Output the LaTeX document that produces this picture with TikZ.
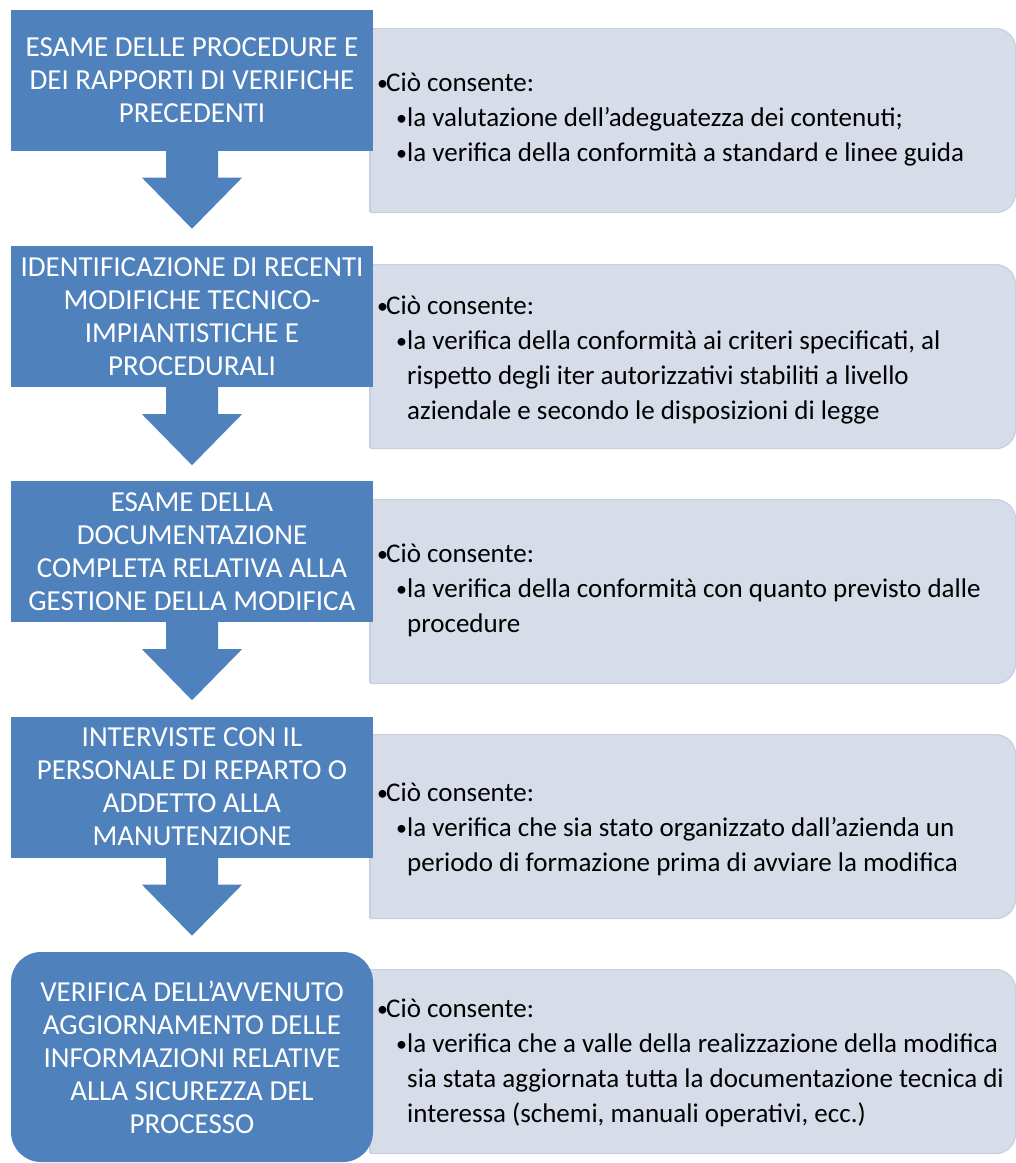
\documentclass[tikz,border=0pt]{standalone}
\usepackage{fontspec}
\setmainfont{Carlito}
\definecolor{stepblue}{HTML}{4F81BD}
\definecolor{notefill}{HTML}{D6DCE8}
\definecolor{noteline}{HTML}{C8CFDE}
% bullet helpers for the note texts
\newcommand{\dotmark}{{\fontsize{22}{22}\selectfont\raisebox{1pt}{•}}}
\newcommand{\notehead}[1]{\makebox[9pt][l]{\dotmark}#1}
\newcommand{\noteitem}[1]{\hspace*{19pt}\makebox[11pt][l]{\dotmark}#1}
\newcommand{\notecont}[1]{\hspace*{30pt}#1}
\begin{document}
\begin{tikzpicture}[x=1pt,y=-1pt,
  stepbox/.style={fill=stepblue, text=white, minimum width=362pt, minimum height=141pt,
    inner sep=0pt, align=center, font=\fontsize{29}{33}\selectfont},
  flow/.style={fill=stepblue},
  notebox/.style={fill=notefill, draw=noteline, line width=1.2pt, rounded corners=20pt,
    minimum width=675pt, minimum height=184pt, anchor=north west, inner sep=0pt},
  notetext/.style={anchor=west, inner sep=0pt, align=left,
    font=\fontsize{27}{35}\selectfont, text=black}]
\useasboundingbox (0,0) rectangle (1016,1163);

% note panels (square left side, rounded right side)
\begin{scope}
  \clip (370,0) rectangle (1016,1163);
  \node[notebox] (n1) at (340,28) {};
  \node[notebox] (n2) at (340,264) {};
  \node[notebox] (n3) at (340,499) {};
  \node[notebox] (n4) at (340,734) {};
  \node[notebox] (n5) at (340,969) {};
\end{scope}
\foreach \t in {28,264,499,734,969}
  \draw[noteline, line width=1.2pt] (370,\t) -- ++(0,184);

% steps
\node[stepbox] (b1) at (192,80) {ESAME DELLE PROCEDURE E\\DEI RAPPORTI DI VERIFICHE\\PRECEDENTI};
\node[stepbox] (b2) at (192,316.5) {IDENTIFICAZIONE DI RECENTI\\MODIFICHE TECNICO-\\IMPIANTISTICHE E\\PROCEDURALI};
\node[stepbox] (b3) at (192,551.5) {ESAME DELLA\\DOCUMENTAZIONE\\COMPLETA RELATIVA ALLA\\GESTIONE DELLA MODIFICA};
\node[stepbox] (b4) at (192,787) {INTERVISTE CON IL\\PERSONALE DI REPARTO O\\ADDETTO ALLA\\MANUTENZIONE};
\node[stepbox, rounded corners=30pt, minimum height=210pt] (b5) at (192,1057)
  {VERIFICA DELL’AVVENUTO\\AGGIORNAMENTO DELLE\\INFORMAZIONI RELATIVE\\ALLA SICUREZZA DEL\\PROCESSO};

% block arrows hanging below each step
\foreach \b in {b1,b2,b3,b4}
  \fill[flow] (\b.south) ++(-26,-1) -- ++(0,28) -- ++(-24,0) -- ++(50,51)
    -- ++(50,-51) -- ++(-24,0) -- ++(0,-28) -- cycle;

% note texts
\node[notetext] (t1) at (377,120) {\notehead{Ciò consente:}\\
  \noteitem{la valutazione dell’adeguatezza dei contenuti;}\\
  \noteitem{la verifica della conformità a standard e linee guida}};
\node[notetext] (t2) at (377,360) {\notehead{Ciò consente:}\\
  \noteitem{la verifica della conformità ai criteri specificati, al}\\
  \notecont{rispetto degli iter autorizzativi stabiliti a livello}\\
  \notecont{aziendale e secondo le disposizioni di legge}};
\node[notetext] (t3) at (377,590) {\notehead{Ciò consente:}\\
  \noteitem{la verifica della conformità con quanto previsto dalle}\\
  \notecont{procedure}};
\node[notetext] (t4) at (377,829) {\notehead{Ciò consente:}\\
  \noteitem{la verifica che sia stato organizzato dall’azienda un}\\
  \notecont{periodo di formazione prima di avviare la modifica}};
\node[notetext] (t5) at (377,1063) {\notehead{Ciò consente:}\\
  \noteitem{la verifica che a valle della realizzazione della modifica}\\
  \notecont{sia stata aggiornata tutta la documentazione tecnica di}\\
  \notecont{interessa (schemi, manuali operativi, ecc.)}};
\end{tikzpicture}
\end{document}
